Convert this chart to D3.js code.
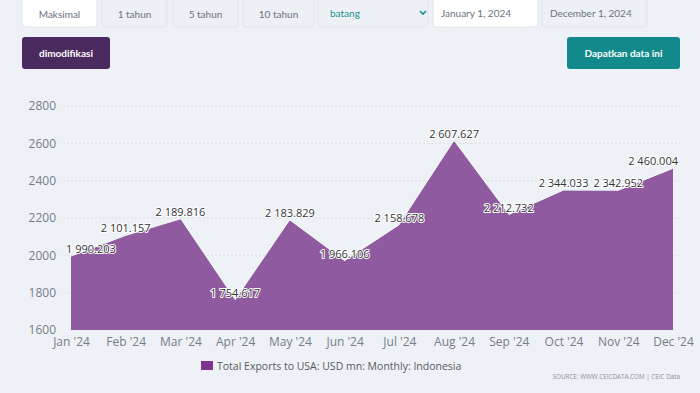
<!DOCTYPE html>
<html><head><meta charset="utf-8">
<script src="https://cdn.jsdelivr.net/npm/d3@7"></script>
<style>
html,body{margin:0;padding:0;background:#eef2f7;}
svg{display:block;}
</style></head>
<body>
<svg id="c" width="700" height="393"></svg>
<script>
const months = ["Jan '24","Feb '24","Mar '24","Apr '24","May '24","Jun '24","Jul '24","Aug '24","Sep '24","Oct '24","Nov '24","Dec '24"];
const values = [1990.203,2101.157,2189.816,1754.617,2183.829,1966.106,2158.678,2607.627,2212.732,2344.033,2342.952,2460.004];
const yTicks = [1600,1800,2000,2200,2400,2600,2800];
const seriesName = "Total Exports to USA: USD mn: Monthly: Indonesia";
const sourceText = "SOURCE: WWW.CEICDATA.COM | CEIC Data";
const rangeButtons = ["Maksimal","1 tahun","5 tahun","10 tahun"];
const chartType = "batang";
const dateFrom = "January 1, 2024", dateTo = "December 1, 2024";

const svg = d3.select("#c");
const ui = "Lato, 'Open Sans', sans-serif";
const font = "'Open Sans', sans-serif";

// top controls
const btnX = [[22,75],[102,65],[173,65],[243,71]];
rangeButtons.forEach((t,i)=>{
  const [x,w]=btnX[i];
  svg.append("rect").attr("x",x).attr("y",-6).attr("width",w).attr("height",33).attr("rx",3)
    .attr("fill", i===0?"#ffffff":"#edf1f5").attr("stroke","#dfe5ec");
  svg.append("text").attr("x",x+w/2).attr("y",18).attr("text-anchor","middle")
    .attr("font-family",ui).attr("font-size",10).attr("fill","#6b7280").text(t);
});
svg.append("rect").attr("x",318).attr("y",-6).attr("width",110).attr("height",33).attr("rx",3).attr("fill","#edf1f5").attr("stroke","#dfe5ec");
svg.append("text").attr("x",330).attr("y",17).attr("font-family",ui).attr("font-size",10).attr("fill","#1a8f8f").text(chartType);
svg.append("path").attr("d","M420,11 l3,3 l3,-3").attr("fill","none").attr("stroke","#1a8f8f").attr("stroke-width",1.6);
svg.append("rect").attr("x",433).attr("y",-6).attr("width",105).attr("height",33).attr("rx",3).attr("fill","#ffffff").attr("stroke","#dfe5ec");
svg.append("text").attr("x",441).attr("y",17).attr("font-family",ui).attr("font-size",10).attr("fill","#6b7280").text(dateFrom);
svg.append("rect").attr("x",542).attr("y",-6).attr("width",105).attr("height",33).attr("rx",3).attr("fill","#edf1f5").attr("stroke","#dfe5ec");
svg.append("text").attr("x",550).attr("y",17).attr("font-family",ui).attr("font-size",10).attr("fill","#6b7280").text(dateTo);

svg.append("rect").attr("x",22).attr("y",37).attr("width",88).attr("height",32).attr("rx",3).attr("fill","#4b2a5f");
svg.append("text").attr("x",66).attr("y",57).attr("text-anchor","middle").attr("font-family",ui).attr("font-weight",700).attr("font-size",10).attr("fill","#ffffff").text("dimodifikasi");
svg.append("rect").attr("x",567).attr("y",37).attr("width",113).attr("height",32).attr("rx",3).attr("fill","#12898a");
svg.append("text").attr("x",623.5).attr("y",57).attr("text-anchor","middle").attr("font-family",ui).attr("font-weight",700).attr("font-size",10).attr("fill","#ffffff").text("Dapatkan data ini");

// chart
const x = d3.scalePoint().domain(months).range([71,673]);
const y = d3.scaleLinear().domain([1600,2800]).range([330,106]);

const grid = svg.append("g");
yTicks.forEach(t=>{
  if(t>1600) grid.append("line").attr("x1",63).attr("x2",680).attr("y1",y(t)).attr("y2",y(t))
    .attr("stroke","#d9dfe6").attr("stroke-dasharray","2,2");
});

const yAxis = d3.axisLeft(y).tickValues(yTicks).tickSize(0).tickPadding(0).tickFormat(d3.format("d"));
const ya = svg.append("g").attr("transform","translate(56,0)").call(yAxis);
ya.select(".domain").remove();
ya.selectAll("text").attr("font-family",font).attr("font-size",12).attr("fill","#767d88");

const xAxis = d3.axisBottom(x).tickSize(0).tickPadding(0);
const xa = svg.append("g").attr("transform","translate(0,335)").call(xAxis);
xa.select(".domain").remove();
xa.selectAll("text").attr("font-family",font).attr("font-size",12).attr("fill","#767d88").attr("dy","0.9em");

const area = d3.area().x((d,i)=>x(months[i])).y0(y(1600)).y1(d=>y(d));
svg.append("path").datum(values).attr("d",area).attr("fill","#8f5a9f");
const line = d3.line().x((d,i)=>x(months[i])).y(d=>y(d));
svg.append("path").datum(values).attr("d",line).attr("fill","none").attr("stroke","#8a5499").attr("stroke-width",1);

const fmt = v => { const s = v.toFixed(3); const [a,b]=s.split("."); return a.replace(/\B(?=(\d{3})+(?!\d))/g," ")+"."+b; };
const lbl = svg.append("g");
values.forEach((v,i)=>{
  let cx = x(months[i]), anchor="middle";
  if(i===0){cx=66; anchor="start";}
  if(i===values.length-1){cx=678; anchor="end";}
  lbl.append("text").attr("x",cx).attr("y",y(v)-4).attr("text-anchor",anchor)
    .attr("font-family",font).attr("font-size",11).attr("fill","#333")
    .attr("stroke","#ffffff").attr("stroke-width",2).attr("paint-order","stroke").attr("stroke-linejoin","round")
    .text(fmt(v));
});

// legend
svg.append("rect").attr("x",201).attr("y",361).attr("width",12).attr("height",9).attr("fill","#7d3590");
svg.append("text").attr("x",217).attr("y",369.5).attr("font-family",font).attr("font-size",10.5).attr("fill","#555a62").text(seriesName);
svg.append("text").attr("x",680).attr("y",379).attr("text-anchor","end").attr("font-family",font).attr("font-size",6.3).attr("fill","#8a9099").text(sourceText);
</script>
</body></html>
